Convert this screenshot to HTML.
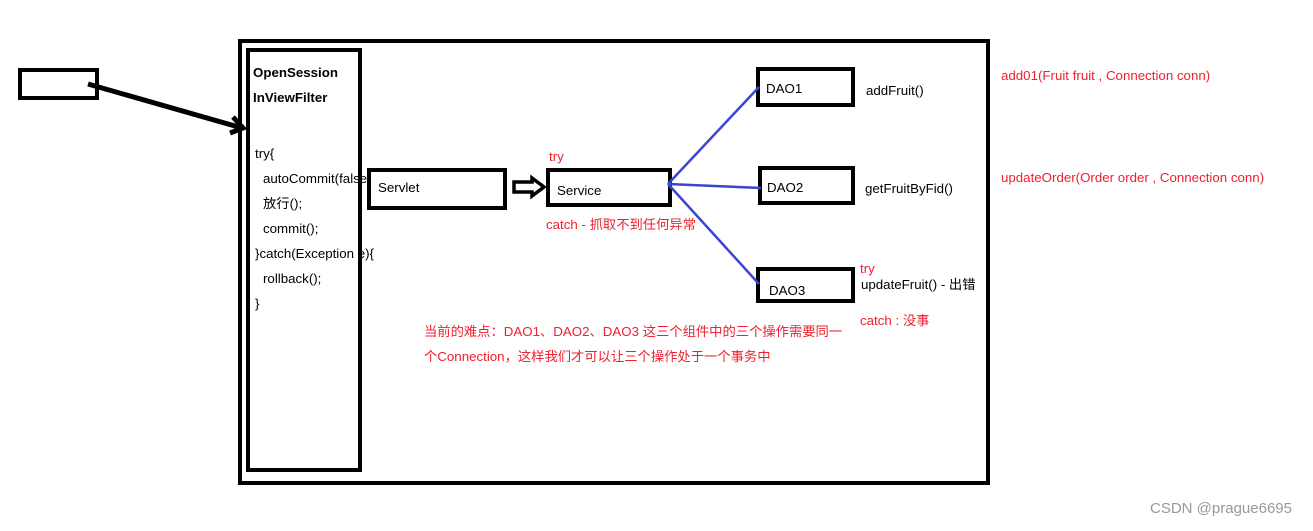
<!DOCTYPE html>
<html><head><meta charset="utf-8"><style>
html,body{margin:0;padding:0;background:#fff;}
svg text{font-family:"Liberation Sans","Noto Sans CJK SC",sans-serif;font-size:13.3px;}
.r{fill:#f02030}
</style></head><body>
<svg width="1313" height="526" xmlns="http://www.w3.org/2000/svg">
<rect width="1313" height="526" fill="#fff"/>
<text x="253" y="77" font-weight="bold">OpenSession</text>
<text x="253" y="102" font-weight="bold">InViewFilter</text>
<text x="255" y="158">try{</text>
<text x="263" y="183">autoCommit(false)</text>
<text x="263" y="208">放行();</text>
<text x="263" y="233">commit();</text>
<text x="255" y="258">}catch(Exception e){</text>
<text x="263" y="283">rollback();</text>
<text x="255" y="308">}</text>
<g fill="none" stroke="#000" stroke-width="4">
<rect x="240" y="41" width="748" height="442"/>
<rect x="248" y="50" width="112" height="420"/>
<rect x="20" y="70" width="77" height="28"/>
<rect x="369" y="170" width="136" height="38"/>
<rect x="548" y="170" width="122" height="35"/>
<rect x="758" y="69" width="95" height="36"/>
<rect x="760" y="168" width="93" height="35"/>
<rect x="758" y="269" width="95" height="32"/>
<line x1="88" y1="84" x2="242" y2="128" stroke-width="5"/>
<polyline points="233,117 243,128 230,133" stroke-width="5"/>
</g>
<path d="M514,182 h18 v-4 l12,9 l-12,9 v-4 h-18 z" fill="#fff" stroke="#000" stroke-width="3.5"/>
<g stroke="#3a46d0" stroke-width="2.5" fill="none">
<line x1="668" y1="184" x2="759" y2="87"/>
<line x1="668" y1="184" x2="761" y2="188"/>
<line x1="668" y1="184" x2="759" y2="284"/>
</g>
<text x="378" y="192">Servlet</text>
<text x="557" y="195">Service</text>
<text x="549" y="161" class="r">try</text>
<text x="546" y="229" class="r">catch  - 抓取不到任何异常</text>
<text x="766" y="93">DAO1</text>
<text x="767" y="192">DAO2</text>
<text x="769" y="295">DAO3</text>
<text x="866" y="95">addFruit()</text>
<text x="865" y="193">getFruitByFid()</text>
<text x="860" y="273" class="r">try</text>
<text x="861" y="289">updateFruit() - 出错</text>
<text x="860" y="325" class="r">catch : 没事</text>
<text x="424" y="336" class="r">当前的难点：DAO1、DAO2、DAO3 这三个组件中的三个操作需要同一</text>
<text x="424" y="361" class="r">个Connection，这样我们才可以让三个操作处于一个事务中</text>
<text x="1001" y="80" class="r">add01(Fruit fruit , Connection conn)</text>
<text x="1001" y="182" class="r">updateOrder(Order order , Connection conn)</text>
<text x="1150" y="513" fill="#999" style="font-size:15px">CSDN @prague6695</text>
</svg>
</body></html>
